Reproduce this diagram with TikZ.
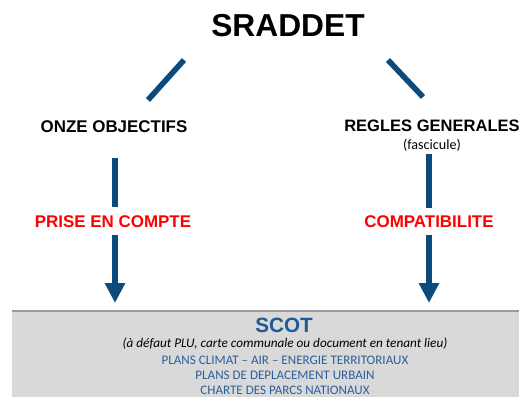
\documentclass[tikz,border=0pt]{standalone}
\usepackage{fontspec}
\setmainfont{Liberation Sans}
\newfontfamily\carl{Carlito}
\usetikzlibrary{arrows.meta}
\definecolor{arrowblue}{HTML}{0D4A7C}
\definecolor{scotblue}{HTML}{1F5A96}
\definecolor{lineblue}{HTML}{2C5F9C}
\definecolor{boxgray}{HTML}{D9D9D9}
\definecolor{boxedge}{HTML}{9A9A9A}
\begin{document}
\begin{tikzpicture}[x=0.75pt,y=-0.75pt,
  headtxt/.style={font=\bfseries\fontsize{12.7pt}{14pt}\selectfont, inner sep=0pt},
  reltxt/.style={font=\bfseries\fontsize{12.7pt}{14pt}\selectfont, text=red, inner sep=0pt},
  bluetxt/.style={font=\carl\fontsize{9.8pt}{11pt}\selectfont, text=lineblue, inner sep=0pt},
  branch/.style={draw=arrowblue, line width=4.2pt},
  flow/.style={draw=arrowblue, line width=3.8pt},
  flowarrow/.style={draw=arrowblue, line width=3.8pt, -{Triangle[width=14.5pt,length=15pt]}}]
\useasboundingbox (0,0) rectangle (519,397);
% grey band
\fill[boxgray] (12,311) rectangle (519,397);
\draw[boxedge, line width=0.9pt] (12,311) -- (519,311);
% title
\node[font=\bfseries\fontsize{23.8pt}{26pt}\selectfont, inner sep=0pt] (title) at (288,26) {SRADDET};
% branch lines
\coordinate (l1) at (184,60); \coordinate (l2) at (148,100);
\coordinate (r1) at (388,60); \coordinate (r2) at (423,97);
\draw[branch] (l1) -- (l2);
\draw[branch] (r1) -- (r2);
% headings
\node[headtxt] (obj) at (114,127) {ONZE OBJECTIFS};
\node[font=\bfseries\fontsize{12.4pt}{14pt}\selectfont, inner sep=0pt] (reg) at (432,126) {REGLES GENERALES};
\node[font=\carl\fontsize{10.6pt}{12pt}\selectfont, inner sep=0pt] (fasc) at (432,145) {(fascicule)};
% relation labels
\node[reltxt] (prise) at (113,222) {PRISE EN COMPTE};
\node[reltxt] (compat) at (429,222) {COMPATIBILITE};
% arrows
\coordinate (a1) at (115,158); \coordinate (a2) at (115,207);
\coordinate (a3) at (115,235); \coordinate (a4) at (115,303);
\coordinate (b1) at (429,154); \coordinate (b2) at (429,208);
\coordinate (b3) at (429,235); \coordinate (b4) at (429,303);
\draw[flow] (a1) -- (a2);
\draw[flowarrow] (a3) -- (a4);
\draw[flow] (b1) -- (b2);
\draw[flowarrow] (b3) -- (b4);
% SCOT band text
\node[font=\bfseries\fontsize{15.5pt}{18pt}\selectfont, text=scotblue, inner sep=0pt] (scot) at (284,325) {SCOT};
\node[font=\carl\itshape\fontsize{9.9pt}{11pt}\selectfont, inner sep=0pt] (defaut) at (285,344) {(à défaut PLU, carte communale ou document en tenant lieu)};
\node[bluetxt] (pcaet) at (285,360) {PLANS CLIMAT – AIR – ENERGIE TERRITORIAUX};
\node[bluetxt] (pdu) at (285,375) {PLANS DE DEPLACEMENT URBAIN};
\node[bluetxt] (charte) at (285,390) {CHARTE DES PARCS NATIONAUX};
\end{tikzpicture}
\end{document}
